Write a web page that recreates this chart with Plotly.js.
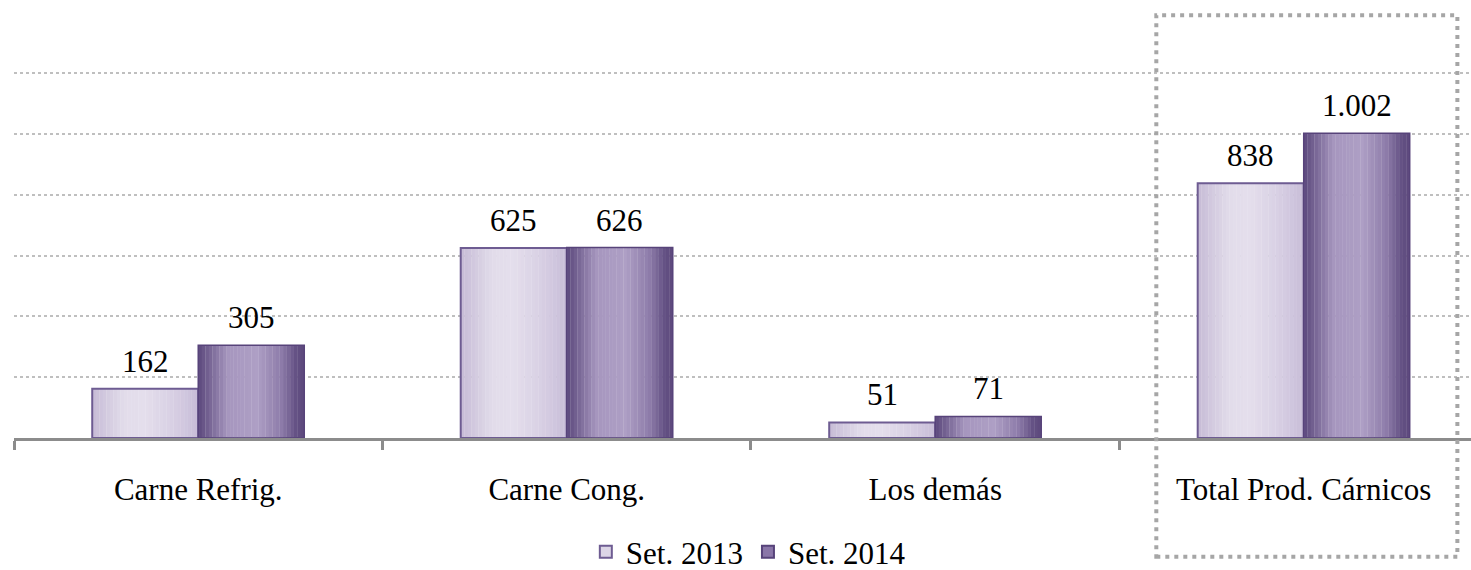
<!DOCTYPE html>
<html>
<head>
<meta charset="utf-8">
<script src="https://cdn.plot.ly/plotly-3.0.1.min.js"></script>
<style>html,body{margin:0;padding:0;background:#fff;}#chart{width:1471px;height:570px;}</style>
</head>
<body>
<div id="chart"></div>
<script>
// ---- data ----
const categories = ["Carne Refrig.", "Carne Cong.", "Los demás", "Total Prod. Cárnicos"];
const set2013 = [162, 625, 51, 838];
const set2014 = [305, 626, 71, 1002];
const seriesNames = ["Set. 2013", "Set. 2014"];

// ---- styling ----
const FONT = "Liberation Serif";
const FS = 31;
const BAR_W = 0.2877;      // width of one bar in category units
const STRIPS = 30;         // strips used to imitate horizontal gradient
const X_RANGE = [-0.5, 3.454];
const PLOT_W = 1471 - 14;
const PX_PER_CAT = PLOT_W / (X_RANGE[1] - X_RANGE[0]);
const grad2013 = [[0,[198,187,214]],[0.3,[226,220,234]],[0.5,[228,222,236]],[0.75,[216,208,228]],[1,[200,189,216]]];
const grad2014 = [[0,[92,72,125]],[0.08,[112,94,142]],[0.28,[166,150,190]],[0.55,[174,159,197]],[0.78,[142,124,170]],[0.92,[100,81,132]],[1,[92,72,125]]];
const outline2013 = "#6E5C92", outline2014 = "#57437A";
const legendFill = ["#DCD5E6", "#8A76A8"];

function gradColor(stops, u) {
  for (let i = 0; i < stops.length - 1; i++) {
    const [a, ca] = stops[i], [b, cb] = stops[i + 1];
    if (u >= a && u <= b) {
      const t = (u - a) / (b - a);
      const c = ca.map((v, j) => Math.round(v + (cb[j] - v) * t));
      return `rgb(${c[0]},${c[1]},${c[2]})`;
    }
  }
  const c = stops[stops.length - 1][1];
  return `rgb(${c[0]},${c[1]},${c[2]})`;
}

const series = [
  {name: seriesNames[0], y: set2013, start: -BAR_W, grad: grad2013, line: outline2013, lw: 2},
  {name: seriesNames[1], y: set2014, start: 0, grad: grad2014, line: outline2014, lw: 1.5}
];

const traces = [];
// legend entries (zero-height bars, hidden under the axis line)
series.forEach((s, i) => {
  traces.push({
    type: "bar", x: categories, y: categories.map(() => 0), name: s.name,
    offset: s.start, width: BAR_W,
    marker: {color: legendFill[i], line: {color: s.line, width: 2}},
    showlegend: true, hoverinfo: "skip"
  });
});
// gradient strips
series.forEach(s => {
  const w = BAR_W / STRIPS;
  for (let k = 0; k < STRIPS; k++) {
    traces.push({
      type: "bar", x: categories, y: s.y,
      offset: s.start + k * w, width: w * 1.08,
      marker: {color: gradColor(s.grad, (k + 0.5) / STRIPS), line: {width: 0}},
      showlegend: false, hoverinfo: "skip"
    });
  }
});
// outlines
series.forEach(s => {
  traces.push({
    type: "bar", x: categories, y: s.y,
    offset: s.start, width: BAR_W,
    marker: {color: "rgba(0,0,0,0)", line: {color: s.line, width: s.lw}},
    showlegend: false, name: s.name
  });
});

// value labels
const annotations = [];
series.forEach(s => {
  categories.forEach((c, i) => {
    annotations.push({
      x: c, y: s.y[i], xref: "x", yref: "y",
      text: s.y[i].toLocaleString("de-DE"),
      showarrow: false, yanchor: "bottom",
      xshift: (s.start + BAR_W / 2) * PX_PER_CAT, yshift: 8,
      font: {family: FONT, size: FS, color: "#000"}
    });
  });
});

const layout = {
  width: 1471, height: 570,
  margin: {l: 14, r: 0, t: 70, b: 132, autoexpand: false},
  paper_bgcolor: "#fff", plot_bgcolor: "#fff",
  barmode: "overlay",
  font: {family: FONT, size: FS, color: "#000"},
  xaxis: {
    type: "category", range: X_RANGE,
    showline: true, linecolor: "#8C8C8C", linewidth: 3,
    ticks: "outside", tickson: "boundaries", ticklen: 9, tickwidth: 3, tickcolor: "#8C8C8C",
    ticklabelstandoff: 22,
    tickfont: {family: FONT, size: FS, color: "#000"},
    showgrid: false, zeroline: false, fixedrange: true
  },
  yaxis: {
    range: [0, 1210], tickvals: [200, 400, 600, 800, 1000, 1200], showticklabels: false,
    showgrid: true, gridcolor: "#BFBFBF", gridwidth: 2, griddash: "dot",
    zeroline: false, showline: false, fixedrange: true
  },
  legend: {
    orientation: "h", x: 0.504, xanchor: "center", y: -0.31, yanchor: "middle",
    font: {family: FONT, size: FS, color: "#000"}, itemwidth: 30, tracegroupgap: 0
  },
  annotations: annotations,
  shapes: [{
    type: "rect", xref: "x", yref: "paper",
    x0: 2.6, x1: 3.417, y0: -0.323, y1: 1.149,
    line: {color: "#A6A6A6", width: 4, dash: "4px,5px"}, fillcolor: "rgba(0,0,0,0)"
  }]
};

Plotly.newPlot("chart", traces, layout, {displayModeBar: false, staticPlot: true});
</script>
</body>
</html>
